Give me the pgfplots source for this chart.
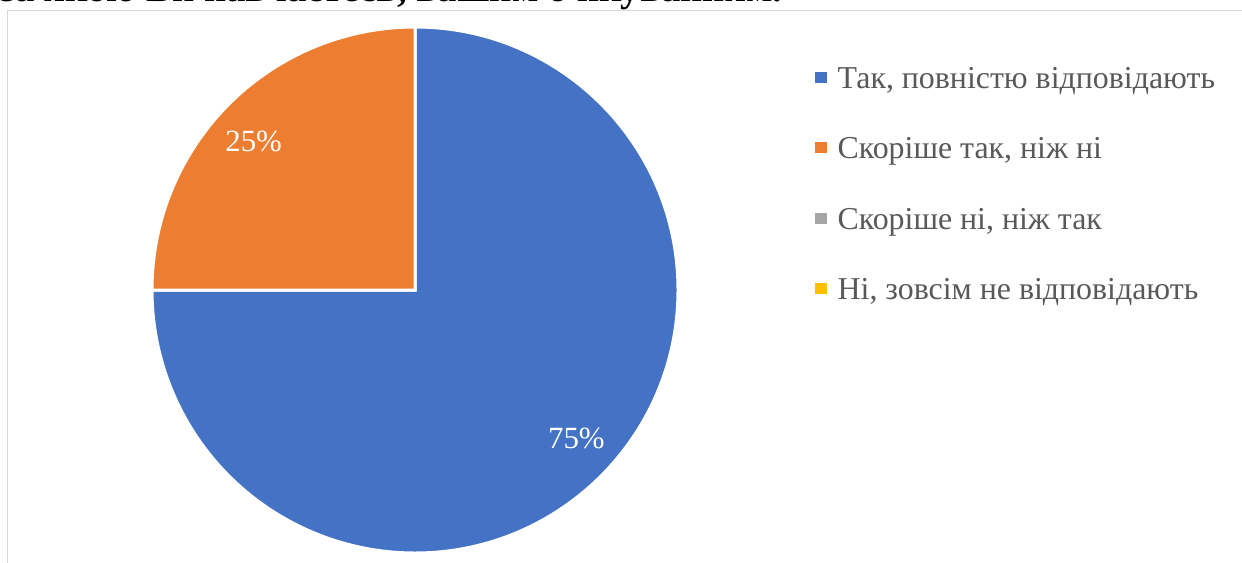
\documentclass[border=0pt]{standalone}
\usepackage{pgfplots}
\pgfplotsset{compat=1.18}
\usepackage{pgfplotstable}
\usepackage{fontspec}
\setmainfont{Liberation Serif}

\definecolor{pieblue}{HTML}{4472C4}
\definecolor{pieorange}{HTML}{ED7D31}
\definecolor{piegray}{HTML}{A5A5A5}
\definecolor{pieyellow}{HTML}{FFC000}
\definecolor{legtext}{HTML}{595959}
\definecolor{framegray}{HTML}{D9D9D9}

% shares in percent, same order as the legend
\pgfplotstableread{
share
75
25
0
0
}\piedata

\begin{document}
\pgfplotstablegetelem{0}{share}\of\piedata \let\shareA\pgfplotsretval
\pgfplotstablegetelem{1}{share}\of\piedata \let\shareB\pgfplotsretval
\begin{tikzpicture}[x=1bp,y=1bp]
\useasboundingbox (0,0) rectangle (1242,-563);
\clip (0,0) rectangle (1242,-563);

% cut-off line of the surrounding text
\node[anchor=base west, inner sep=0pt] at (0bp,-2bp)
  {\resizebox{782bp}{!}{\bfseries за якою Ви навчаєтесь, вашим очікуванням.}};

% chart area frame
\draw[framegray, line width=1.2bp] (7.5,-10.5) rectangle (1300,-620);

\begin{axis}[
  at={(415bp,-290bp)}, anchor=center,
  x=263bp, y=263bp,
  xmin=-1, xmax=1, ymin=-1, ymax=1,
  hide axis, clip=false,
  legend cell align=left,
  legend image code/.code={\fill[#1] (0bp,-1bp) rectangle (11bp,9bp);},
  legend style={
    at={(axis cs:1.521,0.848)}, anchor=north west,
    draw=none, fill=none, inner sep=0pt,
    row sep=42.5bp, column sep=11bp,
    font=\fontsize{32}{38}\selectfont, text=legtext,
    nodes={inner sep=0pt, text height=21bp, text depth=7bp},
  },
]
\addlegendimage{pieblue}
\addlegendentry{Так, повністю відповідають}
\addlegendimage{pieorange}
\addlegendentry{Скоріше так, ніж ні}
\addlegendimage{piegray}
\addlegendentry{Скоріше ні, ніж так}
\addlegendimage{pieyellow}
\addlegendentry{Ні, зовсім не відповідають}

% slices, clockwise from 12 o'clock
\filldraw[fill=pieblue, draw=white, line width=3bp]
  (axis cs:0,0) -- (axis cs:0,1)
  arc[start angle=90, delta angle={-3.6*\shareA}, radius=263bp] -- cycle;
\filldraw[fill=pieorange, draw=white, line width=3bp]
  (axis cs:0,0) -- (axis cs:{cos(90-3.6*\shareA)},{sin(90-3.6*\shareA)})
  arc[start angle={90-3.6*\shareA}, delta angle={-3.6*\shareB}, radius=263bp] -- cycle;

% data labels near the middle of each slice
\node[white, font=\fontsize{31}{37}\selectfont]
  at (axis cs:{0.835*cos(92.3-1.8*\shareA)},{0.835*sin(92.3-1.8*\shareA)}) {\shareA\%};
\node[white, font=\fontsize{31}{37}\selectfont]
  at (axis cs:{0.835*cos(92.3-3.6*\shareA-1.8*\shareB)},{0.835*sin(92.3-3.6*\shareA-1.8*\shareB)}) {\shareB\%};
\end{axis}
\end{tikzpicture}
\end{document}
